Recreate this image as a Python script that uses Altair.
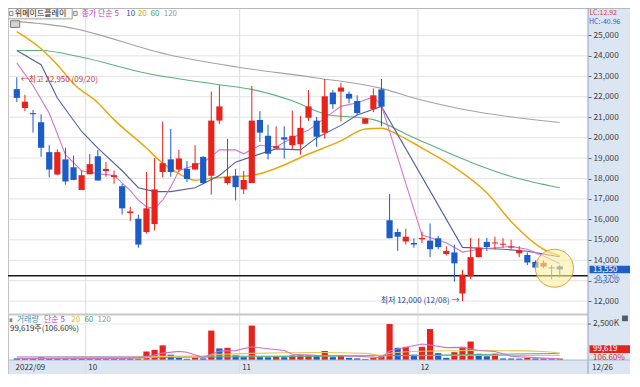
import altair as alt
import pandas as pd

# ---------------- data ----------------
dates = ["09/20","09/21","09/22","09/23","09/26","09/27","09/28","09/29","09/30",
         "10/04","10/05","10/06","10/07","10/11","10/12","10/13","10/14","10/17","10/18","10/19",
         "10/20","10/21","10/24","10/25","10/26","10/27","10/28","10/31",
         "11/01","11/02","11/03","11/04","11/07","11/08","11/09","11/10","11/11","11/14","11/15",
         "11/16","11/17","11/18","11/21","11/22","11/23","11/24","11/25","11/28","11/29","11/30",
         "12/01","12/02","12/05","12/06","12/07","12/08","12/09","12/12","12/13","12/14","12/15",
         "12/16","12/19","12/20","12/21","12/22","12/23","12/26"]

opens = [22375, 21449, 21200, 20754, 19291, 18194, 18935, 18550, 17439,
         18208, 19088, 18365, 18069, 17624, 16310, 16032, 15383, 15772, 18319, 18935,
         18439, 18472, 18439, 19060, 18134, 20833, 17777, 18134,
         17467, 17777, 20866, 20092, 19477, 20014, 19629, 19675, 20972, 20833, 20245,
         22208, 22254, 22143, 21791, 20680, 21402, 22361, 15958, 15383, 14921, 14847,
         15030, 14960, 15078, 14305, 14383, 12374, 13226, 14152, 14900, 14820, 14760,
         14620, 14340, 14260, 13920, 13690, 13650, 13700]
highs = [22950, 22097, 21356, 21143, 19629, 19430, 19504, 19120, 18393,
         19199, 19398, 18810, 18393, 17731, 16620, 16236, 18319, 19000, 20787, 20430,
         19398, 18856, 19629, 19088, 22254, 22560, 19940, 18472,
         18365, 22532, 21296, 20634, 20555, 20555, 21328, 21065, 22329, 21018, 22870,
         22329, 22685, 22254, 22069, 20972, 22407, 22870, 17236, 15540, 15540, 15078,
         15400, 15800, 15198, 14689, 14768, 13530, 15090, 15078, 15100, 15152, 15078,
         15000, 14690, 14380, 13990, 13990, 13760, 13760]
lows = [21745, 21296, 20245, 19060, 18055, 18162, 17698, 17916, 17439,
        18208, 17902, 18087, 17745, 16236, 15925, 14615, 15309, 15462, 18055, 18087,
        18319, 17824, 18439, 17731, 17208, 20662, 17698, 16930,
        17236, 17777, 19782, 18935, 19477, 18981, 19398, 19166, 20819, 19550, 19940,
        21402, 20787, 21680, 21097, 20680, 21250, 20555, 15078, 14458, 14768, 14615,
        14850, 14150, 14537, 14226, 12950, 12000, 13070, 14152, 14450, 14537, 14615,
        14537, 14150, 13760, 13610, 13610, 13070, 13150]
closes = [21944, 21759, 21143, 19504, 18439, 19291, 17856, 17930, 18162,
          18703, 17902, 18472, 18162, 16541, 16388, 14768, 16541, 17467, 18750, 18319,
          18981, 17976, 18750, 17777, 20833, 21528, 18087, 17578,
          17930, 20833, 20245, 19212, 19583, 19907, 20092, 20477, 21528, 20046, 22023,
          21634, 22454, 21912, 21203, 20940, 22069, 21514, 15078, 15152, 15152, 14768,
          15090, 14540, 14643, 14458, 13850, 13300, 14152, 14615, 14650, 14870, 14810,
          14670, 14490, 13890, 13640, 13870, 13600, 13550]
volumes_k = [110, 120, 90, 200, 110, 100, 120, 100, 95,
             110, 100, 105, 90, 110, 100, 120, 590, 700, 1020, 370,
             150, 80, 150, 110, 2045, 805, 850, 330,
             200, 2395, 200, 190, 210, 190, 330, 340, 350, 330, 630,
             200, 330, 150, 110, 65, 150, 260, 2500, 850, 915, 370,
             915, 2155, 480, 150, 545, 915, 1285, 435, 260, 435, 110,
             105, 100, 150, 110, 105, 110, 100]
vol_up = [0, 1, 0, 1, 0, 0, 1, 0, 0,
          1, 0, 1, 0, 1, 0, 1, 1, 1, 1, 0,
          0, 0, 1, 0, 1, 0, 1, 0,
          0, 1, 0, 0, 1, 0, 1, 1, 1, 0, 1,
          0, 1, 0, 0, 0, 1, 1, 1, 0, 1, 0,
          1, 1, 0, 0, 1, 1, 1, 0, 0, 1, 0,
          0, 0, 1, 0, 0, 1, 1]

# price moving averages (knots: candle index, price)
ma5_i = [0, 2, 4, 6, 8, 10, 12, 14, 15, 16, 17, 18, 19, 20, 23, 24, 25, 27, 28, 30, 32, 33,
         35, 36, 39, 40, 42, 44, 45, 50, 53, 55, 57, 61, 63, 65, 67]
ma5_v = [23660, 22550, 21200, 19170, 18380, 18240, 18150, 17410, 16940, 16620, 16530, 16940,
         17590, 18380, 18800, 19070, 19400, 19400, 19210, 19630, 19540, 19770, 20190, 20370,
         21250, 21530, 21710, 21990, 21570, 15230, 14860, 14400, 14540, 14680, 14540, 14210, 13840]
ma10_i = [0, 3, 5, 8, 10, 13, 15, 17, 19, 22, 25, 27, 29, 32, 35, 37, 40, 42, 45, 55, 60, 63, 65, 67]
ma10_v = [24260, 23570, 21940, 20300, 19490, 18380, 17550, 17360, 17360, 17550, 18150, 18800,
          19070, 19450, 19400, 20000, 20600, 21110, 21530, 14630, 14540, 14440, 14300, 14170]
ma20_i = [0, 3, 5, 7, 10, 12, 16, 18, 20, 22, 24, 27, 29, 32, 36, 40, 43, 45, 47, 50, 54, 58, 61, 65, 67]
ma20_v = [25190, 24350, 23570, 22640, 21710, 20880, 19490, 18750, 18240, 17920, 18010, 18100,
          18150, 18500, 19200, 19840, 20420, 20460, 20150, 19490, 18550, 17300, 15900, 14540, 14210]
ma60_i = [0, 3, 8, 16, 25, 29, 34, 38, 44, 49, 56, 61, 67]
ma60_v = [24260, 24260, 23930, 23150, 22590, 22360, 21800, 21160, 20880, 20000, 18800, 18100, 17550]
ma120_i = [0, 6, 19, 27, 37, 45, 49, 55, 67]
ma120_v = [25690, 25420, 24030, 23470, 22920, 22410, 21940, 21390, 20740]

# volume moving averages (knots, thousands of shares)
vma5_i = [0, 14, 16, 18, 20, 21, 23, 25, 27, 29, 31, 33, 34, 37, 40, 42, 45, 46, 47, 50, 51,
          53, 55, 57, 59, 61, 65, 67]
vma5_v = [100, 110, 230, 480, 600, 540, 170, 620, 650, 920, 780, 660, 400, 330, 300, 260, 160,
          620, 770, 1110, 1040, 860, 880, 660, 590, 260, 130, 80]
vma20_i = [0, 15, 18, 23, 24, 29, 37, 43, 45, 46, 49, 57, 65, 67]
vma20_v = [120, 130, 250, 260, 360, 460, 520, 460, 330, 460, 590, 660, 590, 460]
vma60_i = [0, 23, 37, 50, 67]
vma60_v = [130, 200, 260, 330, 460]
vma120_i = [0, 67]
vma120_v = [230, 330]

price_ticks = [12000, 13000, 14000, 15000, 16000, 17000, 18000, 19000, 20000,
               21000, 22000, 23000, 24000, 25000]
month_ticks = [-0.47, 8.5, 27.5, 49.5]
vol_tick = 2500000
hline_price = 13240
last_close = 13550
hi_idx, hi_val = 0, 22950
lo_idx, lo_val = 55, 12000
circle_i, circle_p = 66.35, 13610

# ---------------- layout ----------------
W, H = 580, 352       # plot area (price + volume panels)
RB, BB = 42, 14       # right axis band, bottom date band
FONT = "Noto Sans CJK KR"
RED = "#e8231b"
BLUE = "#1c5cc8"
BAND = "#dce6f2"


def SX(x):
    return (x - 1) * W / 596.0


def SY(y):
    return y * H / 372.0


XS = alt.Scale(domain=[-0.47, 69.87], nice=False, zero=False)
PS = alt.Scale(domain=[9120, 26343], nice=False, zero=False)
VS = alt.Scale(domain=[0, 24474000], nice=False, zero=False)

XAX = alt.Axis(values=month_ticks, orient="bottom",
               labelExpr="datum.value < 0 ? '2022/09' : datum.value < 10 ? '10' : datum.value < 30 ? '11' : '12'",
               labelAlign="left", labelBaseline="top", labelFlush=False, labelOverlap=False,
               ticks=False, domain=False, grid=False, title=None, labelFontSize=8,
               labelFont=FONT, labelColor="#333333", labelPadding=3, labelOffset=2)
PAX = alt.Axis(orient="right", values=price_ticks, format=",d", labelFontSize=8.3, labelFont=FONT,
               labelColor="#444444", labelPadding=2, tickSize=3, tickColor="#666666",
               domain=False, grid=False, title=None, labelOverlap=False, labelFlush=False)


def XE(f):
    return alt.X(f, type="quantitative", scale=XS, axis=XAX)


def PY(f, axis=None):
    return alt.Y(f, type="quantitative", scale=PS, axis=axis)


def VY(f):
    return alt.Y(f, type="quantitative", scale=VS, axis=None)


DUMMY = pd.DataFrame({"k": [0]})


def vrect(x1, y1, x2, y2, fill, stroke=None, sw=1, opacity=1):
    kw = dict(fill=fill, opacity=opacity)
    if stroke:
        kw.update(stroke=stroke, strokeWidth=sw)
    return alt.Chart(DUMMY).mark_rect(**kw).encode(
        x=alt.value(x1), x2=alt.value(x2), y=alt.value(y1), y2=alt.value(y2))


def vtext(x, y, s, color, size=8, align="left", weight="normal"):
    return alt.Chart(DUMMY).mark_text(align=align, baseline="middle", font=FONT, fontSize=size,
                                      color=color, fontWeight=weight).encode(
        x=alt.value(x), y=alt.value(y), text=alt.value(s))


def vrule(x1, y1, x2, y2, color, sw=1):
    return alt.Chart(DUMMY).mark_rule(color=color, strokeWidth=sw).encode(
        x=alt.value(x1), x2=alt.value(x2), y=alt.value(y1), y2=alt.value(y2))


def ma_line(idx, vals, color, width=1.1, interp="linear", vol=False, mult=1):
    d = pd.DataFrame({"i": idx, "y": [v * mult for v in vals]})
    return alt.Chart(d).mark_line(color=color, strokeWidth=width, interpolate=interp).encode(
        x=XE("i"), y=VY("y") if vol else PY("y"))


df = pd.DataFrame({"i": list(range(len(dates))), "date": dates, "o": opens, "h": highs,
                   "l": lows, "c": closes, "v": [k * 1000 for k in volumes_k], "vu": vol_up})

layers = []

# gridlines
layers.append(alt.Chart(pd.DataFrame({"p": price_ticks})).mark_rule(color="#e3e3e3").encode(y=PY("p", PAX)))
layers.append(alt.Chart(pd.DataFrame({"v": [vol_tick]})).mark_rule(color="#e6e6e6").encode(y=VY("v")))
layers.append(alt.Chart(pd.DataFrame({"g": month_ticks[1:]})).mark_rule(color="#dcdcdc").encode(
    x=XE("g"), y=alt.value(0), y2=alt.value(H + BB)))
layers.append(vrule(0.5, 0, 0.5, H + BB, "#c4c4c4"))
layers.append(vrule(0, 0.5, W + RB, 0.5, "#b8b8b8"))
layers.append(vrule(0, SY(324), W, SY(324), "#c8c8c8", 2))

# price moving averages
layers.append(ma_line(ma120_i, ma120_v, "#a3a3a3", 1.1, "monotone"))
layers.append(ma_line(ma60_i, ma60_v, "#5cb07c", 1.1, "monotone"))
layers.append(ma_line(ma20_i, ma20_v, "#e8a80c", 1.5, "monotone"))
layers.append(ma_line(ma10_i, ma10_v, "#53609e", 1.1))
layers.append(ma_line(ma5_i, ma5_v, "#d474d4", 1.1))

# horizontal reference line
layers.append(alt.Chart(pd.DataFrame({"p": [hline_price]})).mark_rule(color="#1a1a1a", strokeWidth=1.4).encode(y=PY("p")))

# candles
ccol = alt.when(alt.datum.c >= alt.datum.o).then(alt.value(RED)).otherwise(alt.value(BLUE))
base = alt.Chart(df)
layers.append(base.mark_rule(strokeWidth=1).encode(x=XE("i"), y=PY("l"), y2=alt.Y2("h"), color=ccol))
layers.append(base.mark_bar(size=6.2).encode(x=XE("i"), y=PY("o"), y2=alt.Y2("c"), color=ccol))

# volume
vcol = alt.when(alt.datum.vu == 1).then(alt.value(RED)).otherwise(alt.value(BLUE))
layers.append(base.mark_bar(size=6.2).encode(x=XE("i"), y=VY("v"), color=vcol))
layers.append(ma_line(vma120_i, vma120_v, "#b0b0b0", 1, "monotone", True, 1000))
layers.append(ma_line(vma60_i, vma60_v, "#5cb07c", 1, "monotone", True, 1000))
layers.append(ma_line(vma20_i, vma20_v, "#e6c65a", 1.2, "monotone", True, 1000))
layers.append(ma_line(vma5_i, vma5_v, "#d070d0", 1.1, "linear", True, 1000))

# highlight circle
layers.append(alt.Chart(pd.DataFrame({"i": [circle_i], "p": [circle_p]})).mark_point(
    shape="circle", filled=True, size=1444, fill="#fff0a0", fillOpacity=0.6, opacity=1,
    stroke="#e39b3c", strokeWidth=1, strokeOpacity=1).encode(x=XE("i"), y=PY("p")))

# high / low annotations
layers.append(alt.Chart(pd.DataFrame({"i": [hi_idx], "p": [hi_val],
                                      "t": ["←최고 22,950 (09/20)"]})).mark_text(
    align="left", baseline="middle", dx=4, dy=3, font=FONT, fontSize=8, color="#c8352f").encode(
    x=XE("i"), y=PY("p"), text="t:N"))
layers.append(alt.Chart(pd.DataFrame({"i": [lo_idx], "p": [lo_val],
                                      "t": ["최저 12,000 (12/08) →"]})).mark_text(
    align="right", baseline="middle", dx=-3, dy=0, font=FONT, fontSize=8, color="#2c3f9e").encode(
    x=XE("i"), y=PY("p"), text="t:N"))

# top header
layers.append(vrect(SX(1), 0.5, SX(67), SY(11.5), "#f7f7f7", "#a0a0a0"))
layers.append(vrect(SX(2.5), SY(3.5), SX(6), SY(8), "#ffffff", "#888888"))
layers.append(vtext(SX(8), SY(6.2), "위메이드플레이", "#222222"))
layers.append(vrect(SX(68.5), SY(3.5), SX(72), SY(8), "#eeeeee", "#888888"))
layers.append(vtext(SX(76.5), SY(6.2), "종가 단순 5", "#c040c0"))
layers.append(vtext(SX(122.5), SY(6.2), "10", "#3e4f9c"))
layers.append(vtext(SX(134.5), SY(6.2), "20", "#e0a000"))
layers.append(vtext(SX(147.5), SY(6.2), "60", "#3e9e62"))
layers.append(vtext(SX(161), SY(6.2), "120", "#999999"))
layers.append(vrect(SX(3.5), SY(13.5), SX(13), SY(20.5), "#d4d4d4", "#777777"))

# volume header
layers.append(vrect(SX(2.5), SY(328), SX(5.5), SY(332), "#888888"))
layers.append(vtext(SX(10), SY(330), "거래량", "#3d93b3"))
layers.append(vtext(SX(38), SY(330), "단순 5", "#c040c0"))
layers.append(vtext(SX(66), SY(330), "20", "#d8be3c"))
layers.append(vtext(SX(79.5), SY(330), "60", "#3e9e62"))
layers.append(vtext(SX(93), SY(330), "120", "#999999"))
layers.append(vtext(SX(3), SY(339.5), "99,619주(106.60%)", "#333333"))

# right band and bottom band
layers.append(vrule(W, 0, W, H + BB, "#8ea2be"))
layers.append(vrule(0, H, W + RB, H, "#a9b8cc"))
layers.append(vtext(W + 1.5, 5.0, "LC:12.92", "#d23a3a", 7))
layers.append(vtext(W + 1, 14.0, "HC:-40.96", "#3558c8", 7))
layers.append(alt.Chart(pd.DataFrame({"p1": [last_close + 185], "p2": [last_close - 185]})).mark_rect(
    fill="#1e5ec8").encode(x=alt.value(W + 1.5), x2=alt.value(W + RB), y=PY("p1"), y2=alt.Y2("p2")))
layers.append(alt.Chart(pd.DataFrame({"p": [last_close], "t": [f"{last_close:,}"]})).mark_text(
    align="left", baseline="middle", dy=0.5, font=FONT, fontSize=8, color="white").encode(
    x=alt.value(W + 5), y=PY("p"), text="t:N"))
layers.append(alt.Chart(pd.DataFrame({"p1": [last_close - 210], "p2": [last_close - 560]})).mark_rect(
    fill=BAND, opacity=0.75).encode(x=alt.value(W + 4), x2=alt.value(W + RB - 2), y=PY("p1"), y2=alt.Y2("p2")))
layers.append(alt.Chart(pd.DataFrame({"p": [last_close], "t": ["-0.37%"]})).mark_text(
    align="left", baseline="middle", dy=9.5, font=FONT, fontSize=8.3, color="#2a62d6").encode(
    x=alt.value(W + 5), y=PY("p"), text="t:N"))
layers.append(alt.Chart(pd.DataFrame({"v": [vol_tick]})).mark_rule(color="#666666").encode(
    x=alt.value(W), x2=alt.value(W + 3), y=VY("v")))
layers.append(alt.Chart(pd.DataFrame({"v": [vol_tick], "t": ["2,500K"]})).mark_text(
    align="left", baseline="middle", font=FONT, fontSize=8.3, color="#444444").encode(
    x=alt.value(W + 5), y=VY("v"), text="t:N"))
layers.append(vrect(SX(632), SY(325), SX(638), SY(331), "#5a5a5a"))
layers.append(vrect(W + 1.5, SY(356.5), W + RB, SY(364.5), "#e3241c"))
layers.append(vtext(W + 5, SY(360.5), "99,619", "#ffffff", 8))
layers.append(vtext(W + 5, SY(369.5), "106.60%", "#e3241c", 8))
layers.append(vtext(W + 4, H + 7.5, "12/26", "#333333"))

chart = alt.layer(*layers).resolve_scale(y="independent").properties(
    width=W, height=H,
    autosize=alt.AutoSizeParams(type="none"),
    padding={"left": 0, "top": 0, "right": RB, "bottom": BB},
).configure(background=BAND).configure_view(fill="white", strokeWidth=0)

chart.save("out.html", embed_options={"renderer": "svg", "actions": False})
